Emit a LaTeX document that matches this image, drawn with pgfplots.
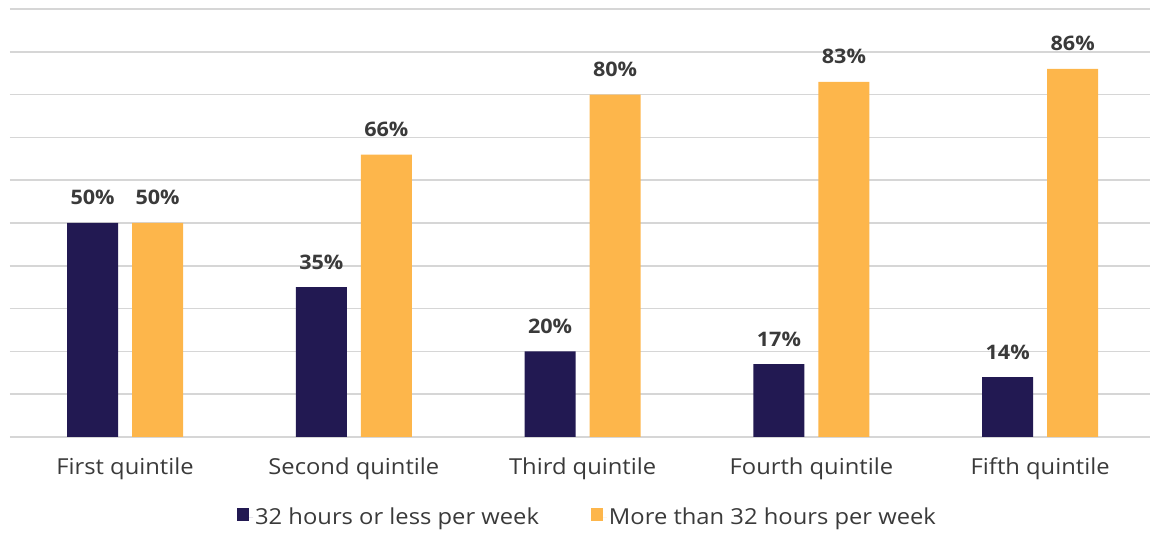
\documentclass[border=0pt]{standalone}
\usepackage{pgfplots}
\pgfplotsset{compat=1.18}
\usepackage{fontspec}
\setmainfont[FakeStretch=1.08]{Open Sans}
\definecolor{navy}{HTML}{221952}
\definecolor{gold}{HTML}{FDB64B}
\definecolor{txt}{HTML}{3A3A3A}
\definecolor{gridc}{HTML}{D6D6D6}
\begin{document}
\begin{tikzpicture}[x=1pt,y=1pt]
\path[use as bounding box] (0,0) rectangle (1150,534);
\begin{axis}[
  at={(10pt,97pt)}, anchor=south west,
  scale only axis, width=1140pt, height=428pt,
  xmin=-0.503, xmax=4.48, ymin=0, ymax=100,
  ytick={0,10,...,100}, yticklabels={},
  ymajorgrids, major grid style={draw=gridc, line width=1.6pt},
  axis line style={draw=none}, tick style={draw=none},
  xtick={0,1,2,3,4},
  xticklabels={First quintile, Second quintile, Third quintile, Fourth quintile, Fifth quintile},
  xticklabel style={font=\fontsize{22}{26}\selectfont, text=txt, anchor=base, inner sep=0pt, yshift=-33pt},
  ybar=14pt, bar width=51pt,
  /pgf/number format/assume math mode=true,
  nodes near coords={\pgfmathprintnumber{\pgfplotspointmeta}\%},
  nodes near coords style={font=\bfseries\fontsize{20}{24}\selectfont, text=txt, anchor=base, inner sep=0pt, yshift=18pt},
  clip=false,
  legend columns=2,
  legend style={at={(0.5066,-0.187)}, anchor=center, draw=none, fill=none,
    font=\fontsize{22}{26}\selectfont, text=txt,
    /tikz/every even column/.append style={column sep=50pt}},
  legend image code/.code={\fill[#1] (0pt,-4pt) rectangle (12pt,9pt); \path (0pt,0pt) -- (16pt,0pt);},
]
\addplot[fill=navy, draw=none] coordinates {(0,50) (1,35) (2,20) (3,17) (4,14)};
\addplot[fill=gold, draw=none] coordinates {(0,50) (1,66) (2,80) (3,83) (4,86)};
\legend{32 hours or less per week, More than 32 hours per week}
\end{axis}
\end{tikzpicture}
\end{document}
